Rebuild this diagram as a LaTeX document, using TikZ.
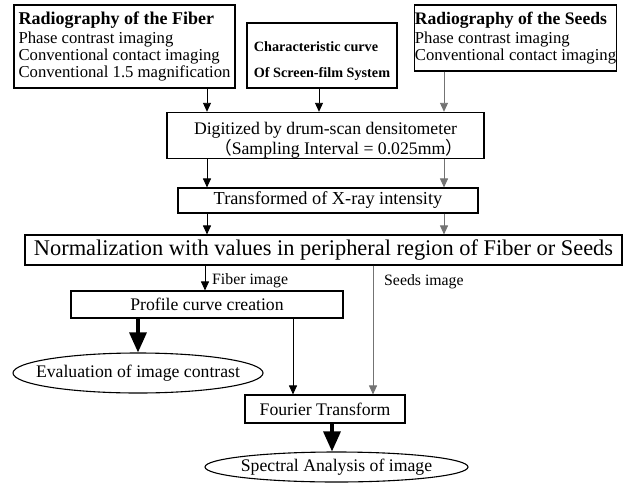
\documentclass[tikz,border=0pt]{standalone}
\usepackage{fontspec}
\setmainfont{Liberation Serif}
\newfontfamily\cjk{Noto Sans CJK JP}
\usetikzlibrary{arrows.meta,shapes.geometric}
\tikzset{
  box/.style={draw, line width=1.1pt, inner sep=0pt, font=\fontsize{17.7}{17}\selectfont},
  arr/.style={-{Triangle[length=9pt,width=8pt]}, line width=0.9pt},
  garr/.style={arr, draw=black!55, fill=black!55},
  bigarr/.style={-{Triangle[length=20pt,width=17pt]}, line width=3.2pt},
  oval/.style={ellipse, draw, line width=1.1pt, inner sep=0pt, font=\fontsize{17.7}{17}\selectfont},
  lbl/.style={inner sep=0pt, anchor=west, font=\fontsize{15.8}{16}\selectfont}
}
\begin{document}
\begin{tikzpicture}[x=1pt,y=-1pt]
\useasboundingbox (0,0) rectangle (628,487);

\node[box, minimum width=221pt, minimum height=83pt, align=left] (fiber) at (124.5,46.5)
 {{\bfseries\fontsize{18}{18}\selectfont Radiography of the Fiber}\\[2pt]
  \fontsize{16.7}{15.8}\selectfont Phase contrast imaging\\
  \fontsize{16.7}{15.8}\selectfont Conventional contact imaging\\
  \fontsize{16.7}{15.8}\selectfont Conventional 1.5 magnification};

\node[box, minimum width=150pt, minimum height=65pt, align=left, font=\bfseries\fontsize{14.2}{26}\selectfont] (char) at (322,55.5)
 {\mbox{}\\[-5pt]Characteristic curve\\Of Screen-film System};

\node[box, minimum width=199pt, minimum height=66pt, align=left] (seeds) at (515.5,38)
 {{\bfseries\fontsize{17.6}{18}\selectfont Radiography of the Seeds}\\[2pt]
  \fontsize{16.7}{21}\selectfont Phase contrast imaging\\
  \fontsize{16.7}{21}\selectfont Conventional contact imaging};

\node[box, minimum width=317pt, minimum height=41pt, align=right, font=\fontsize{17.7}{16.5}\selectfont] (dig) at (325.5,135.5)
 {\mbox{}\\[6pt]Digitized by drum-scan densitometer\\{\cjk （}Sampling Interval = 0.025mm{\cjk ）}\hspace*{-6pt}};

\node[box, minimum width=300pt, minimum height=25pt, font=\fontsize{18.3}{18}\selectfont] (trans) at (328,200.5)
 {Transformed of X-ray intensity};

\node[box, minimum width=597pt, minimum height=30pt, font=\fontsize{22.4}{24}\selectfont] (norm) at (323.5,250)
 {Normalization with values in peripheral region of Fiber or Seeds};

\node[box, minimum width=272pt, minimum height=27pt] (prof) at (207,304.5)
 {Profile curve creation};

\node[oval, minimum width=250pt, minimum height=40pt, inner xsep=-14pt, inner ysep=0pt] (eval) at (138,373)
 {Evaluation of image contrast};

\node[box, minimum width=160pt, minimum height=28pt] (four) at (325,409)
 {Fourier Transform};

\node[oval, minimum width=263pt, minimum height=30pt, inner xsep=-4pt, inner ysep=-2pt] (spec) at (336.5,467)
 {Spectral Analysis of image};

\coordinate (cL) at (207,0);
\coordinate (cM) at (319,0);
\coordinate (cR) at (444,0);
\coordinate (cF) at (205,0);
\coordinate (cS) at (373,0);
\coordinate (cP) at (293,0);
\coordinate (cT) at (332,0);

\draw[arr] (fiber.south -| cL) -- (dig.north -| cL);
\draw[arr] (char.south -| cM) -- (dig.north -| cM);
\draw[garr] (seeds.south -| cR) -- (dig.north -| cR);
\draw[arr] (dig.south -| cL) -- (trans.north -| cL);
\draw[garr] (dig.south -| cR) -- (trans.north -| cR);
\draw[arr] (trans.south -| cL) -- (norm.north -| cL);
\draw[garr] (trans.south -| cR) -- (norm.north -| cR);
\draw[arr] (norm.south -| cF) -- (prof.north -| cF);
\draw[garr] (norm.south -| cS) -- (four.north -| cS);
\draw[arr] (prof.south -| cP) -- (four.north -| cP);
\draw[bigarr] (prof.south -| eval.north) -- (eval.north);
\draw[bigarr] (four.south -| cT) -- (spec.north -| cT);

\node[lbl] (fiblbl) at (212,281) {Fiber image};
\node[lbl] (seedlbl) at (384,282) {Seeds image};
\end{tikzpicture}
\end{document}
